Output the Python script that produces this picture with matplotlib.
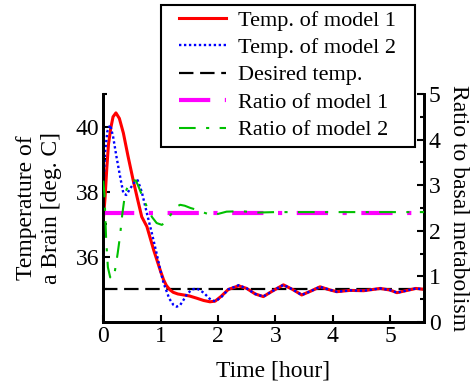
import matplotlib
matplotlib.use('Agg')
import matplotlib.pyplot as plt
from matplotlib.patches import Rectangle

plt.rcParams['font.family'] = ['Liberation Serif', 'DejaVu Serif']

# temperature of model 1 (red)
t_red = [0.0, 0.03, 0.06, 0.09, 0.13, 0.17, 0.22, 0.28, 0.35, 0.43, 0.52, 0.60, 0.67, 0.76,
         0.88, 1.00, 1.05, 1.10, 1.16, 1.22, 1.30, 1.40, 1.50, 1.63, 1.75, 1.86, 1.95, 2.05, 2.18, 2.36,
         2.50, 2.65, 2.79, 2.95, 3.14, 3.30, 3.46, 3.62, 3.78, 3.92, 4.07, 4.30, 4.54, 4.83,
         5.00, 5.12, 5.30, 5.45, 5.60]
T_red = [37.15, 37.8, 38.7, 39.45, 39.95, 40.3, 40.42, 40.25, 39.8, 39.1, 38.36, 37.75, 37.23, 36.93,
         36.2, 35.55, 35.3, 35.12, 34.99, 34.91, 34.86, 34.83, 34.8, 34.73, 34.66, 34.62, 34.64, 34.78, 35.0, 35.11,
         35.03, 34.86, 34.78, 34.95, 35.14, 35.0, 34.83, 34.95, 35.08, 35.0, 34.93, 34.97, 34.96, 35.03,
         34.98, 34.9, 34.97, 35.03, 35.0]

# temperature of model 2 (blue)
t_blue = [0.0, 0.03, 0.07, 0.12, 0.17, 0.23, 0.30, 0.35, 0.40, 0.47, 0.55, 0.60, 0.67, 0.76,
          0.85, 0.93, 1.00, 1.05, 1.15, 1.22, 1.28, 1.34, 1.40, 1.46, 1.55, 1.63, 1.75, 1.85, 1.95, 2.05,
          2.18, 2.36, 2.50, 2.65, 2.79, 2.95, 3.14, 3.30, 3.46, 3.62, 3.78, 3.92, 4.07, 4.30,
          4.54, 4.83, 5.00, 5.12, 5.30, 5.45, 5.60]
T_blue = [38.0, 39.2, 39.85, 40.05, 39.7, 39.07, 38.4, 37.95, 37.9, 38.1, 38.31, 38.35, 38.0, 37.34,
          36.7, 36.1, 35.55, 35.2, 34.72, 34.53, 34.47, 34.52, 34.68, 34.86, 35.0, 35.03, 34.9, 34.72, 34.63, 34.75,
          35.0, 35.13, 35.03, 34.86, 34.78, 34.95, 35.14, 35.0, 34.83, 34.95, 35.08, 35.0, 34.93,
          34.97, 34.96, 35.03, 34.98, 34.9, 34.97, 35.03, 35.0]

# desired temperature
t_des = [0.0, 5.6]
T_des = [35.0, 35.0]

# ratio to basal metabolism
t_r1 = [0.0, 5.6]
r1 = [2.4, 2.4]

t_r2 = [0.0, 0.02, 0.05, 0.08, 0.12, 0.16, 0.20, 0.25, 0.29, 0.33, 0.38, 0.45, 0.52, 0.57,
        0.62, 0.70, 0.76, 0.85, 0.93, 1.02, 1.10, 1.20, 1.28, 1.34, 1.42, 1.52, 1.63, 1.75,
        1.85, 1.92, 2.00, 2.15, 2.40, 2.70, 3.00, 3.50, 4.00, 4.50, 5.00, 5.60]
r2 = [3.1, 2.8, 1.8, 1.2, 0.98, 0.94, 1.1, 1.5, 1.87, 2.35, 2.82, 3.05, 3.11, 3.1,
      2.95, 2.7, 2.53, 2.3, 2.17, 2.13, 2.2, 2.4, 2.53, 2.57, 2.55, 2.5, 2.46, 2.40,
      2.36, 2.35, 2.37, 2.42, 2.43, 2.4, 2.41, 2.41, 2.41, 2.41, 2.41, 2.41]

W, H = 473, 384
fig = plt.figure(figsize=(W / 100, H / 100), dpi=100)
ax = fig.add_axes([0.2184, 0.1615, 0.679, 0.5937])
ax2 = ax.twinx()

l1, = ax.plot(t_red, T_red, color='red', lw=2.2, label='Temp. of model 1', zorder=3)
l2, = ax.plot(t_blue, T_blue, color='blue', lw=1.7, linestyle=(0, (1, 1.1)), label='Temp. of model 2', zorder=4)
l3, = ax.plot(t_des, T_des, color='black', lw=1.6, linestyle=(0, (6.5, 3)), label='Desired temp.', zorder=2)
l4, = ax2.plot(t_r1, r1, color='#ff00ff', lw=3.0, linestyle=(0, (7.5, 3.5, 1, 3.5)), label='Ratio of model 1', zorder=2)
l5, = ax2.plot(t_r2, r2, color='#00c000', lw=1.5, linestyle=(0, (8, 5, 1.5, 5)), label='Ratio of model 2', zorder=3)

ax.set_xlim(0, 5.6)
ax.set_ylim(34, 41)
ax2.set_ylim(0, 5)
ax.set_yticks([36, 38, 40])
ax.set_yticks([35, 37, 39, 41], minor=True)
ax.set_xticks([0, 1, 2, 3, 4, 5])
ax2.set_yticks([0, 1, 2, 3, 4, 5])
ax2.set_yticks([0.5, 1.5, 2.5, 3.5, 4.5], minor=True)

for a in (ax, ax2):
    for s in a.spines.values():
        s.set_linewidth(2.0)
    a.tick_params(direction='in', labelsize=17, width=1.5, length=5, pad=3)
    a.tick_params(which='minor', direction='in', width=1.5, length=3)
ax.spines['top'].set_visible(False)
ax2.spines['top'].set_visible(False)
ax.tick_params(axis='y', right=False)

ax.set_xlabel('Time [hour]', fontsize=17)
ax.xaxis.set_label_coords(0.53, -0.17)
ax.set_ylabel('Temperature of\na Brain [deg. C]', fontsize=17, linespacing=1.25)
ax.yaxis.set_label_coords(-0.13, 0.5)
ax2.set_ylabel('Ratio to basal metabolism', fontsize=17, rotation=270, va='bottom')
ax2.yaxis.set_label_coords(1.072, 0.5)

# legend without its own frame, framed by a box in figure pixels
leg = fig.legend(handles=[l1, l2, l3, l4, l5], loc='upper left',
                 bbox_to_anchor=(179 / W, 1 - 10 / H), borderaxespad=0, borderpad=0,
                 fontsize=16, frameon=False,
                 handlelength=2.1, handletextpad=0.55, labelspacing=0.31)
fig.patches.append(Rectangle((161 / W, 1 - 147 / H), (415 - 161) / W, (147 - 5) / H,
                             transform=fig.transFigure, fill=True, facecolor='white',
                             edgecolor='black', lw=1.5, zorder=4))
leg.set_zorder(5)

fig.savefig('out.png', dpi=100)
